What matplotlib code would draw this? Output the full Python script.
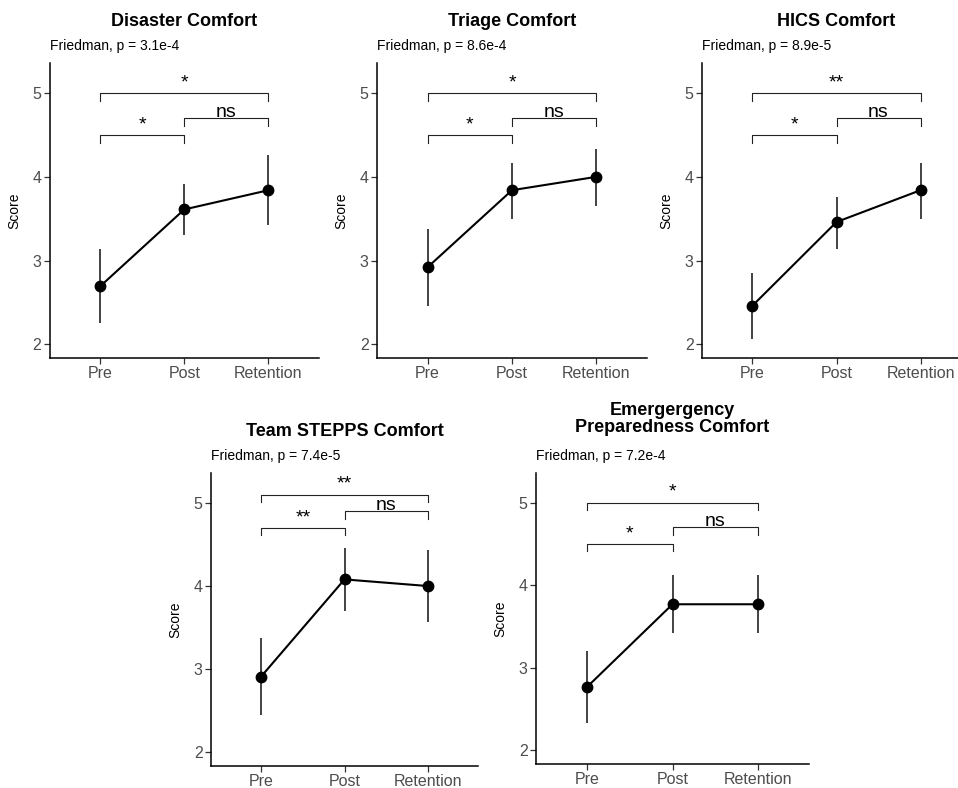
import matplotlib
matplotlib.use('Agg')
import matplotlib.pyplot as plt

plt.rcParams['font.family'] = ['Liberation Sans', 'DejaVu Sans']

## Data
categories = ['Pre', 'Post', 'Retention']

titles = ['Disaster Comfort', 'Triage Comfort', 'HICS Comfort',
          'Team STEPPS Comfort', 'Emergergency\nPreparedness Comfort']
friedman_p = ['3.1e-4', '8.6e-4', '8.9e-5', '7.4e-5', '7.2e-4']

disaster_mean = [2.69, 3.61, 3.84]
disaster_lo   = [2.25, 3.30, 3.43]
disaster_hi   = [3.14, 3.92, 4.26]

triage_mean = [2.92, 3.84, 4.00]
triage_lo   = [2.46, 3.50, 3.65]
triage_hi   = [3.38, 4.17, 4.33]

hics_mean = [2.46, 3.46, 3.84]
hics_lo   = [2.06, 3.14, 3.50]
hics_hi   = [2.85, 3.76, 4.17]

team_mean = [2.91, 4.08, 4.00]
team_lo   = [2.45, 3.70, 3.57]
team_hi   = [3.38, 4.46, 4.43]

ep_mean = [2.77, 3.77, 3.77]
ep_lo   = [2.33, 3.42, 3.42]
ep_hi   = [3.20, 4.13, 4.13]

# pairwise comparisons: (group a, group b, bracket height, label)
disaster_pairs = [(0, 1, 4.5, '*'), (1, 2, 4.7, 'ns'), (0, 2, 5.0, '*')]
triage_pairs   = [(0, 1, 4.5, '*'), (1, 2, 4.7, 'ns'), (0, 2, 5.0, '*')]
hics_pairs     = [(0, 1, 4.5, '*'), (1, 2, 4.7, 'ns'), (0, 2, 5.0, '**')]
team_pairs     = [(0, 1, 4.7, '**'), (1, 2, 4.9, 'ns'), (0, 2, 5.1, '**')]
ep_pairs       = [(0, 1, 4.5, '*'), (1, 2, 4.7, 'ns'), (0, 2, 5.0, '*')]

panels = [
    (disaster_mean, disaster_lo, disaster_hi, disaster_pairs),
    (triage_mean, triage_lo, triage_hi, triage_pairs),
    (hics_mean, hics_lo, hics_hi, hics_pairs),
    (team_mean, team_lo, team_hi, team_pairs),
    (ep_mean, ep_lo, ep_hi, ep_pairs),
]

## Layout (pixels: left, right, top, bottom)
W, H = 958, 788
boxes = [
    (49.5, 319, 63, 358),
    (377, 647, 63, 358),
    (702, 971, 63, 358),
    (211, 478, 473, 766),
    (536, 809, 473, 764),
]

fig = plt.figure(figsize=(W / 100, H / 100), dpi=100)
fig.patch.set_facecolor('white')

x = list(range(len(categories)))

for i, (mean, lo, hi, pairs) in enumerate(panels):
    l, r, t, b = boxes[i]
    ax = fig.add_axes([l / W, 1 - b / H, (r - l) / W, (b - t) / H])

    # error bars and mean line
    ax.vlines(x, lo, hi, color='#222222', linewidth=1.2, zorder=2)
    ax.plot(x, mean, color='black', linewidth=1.5, marker='o',
            markersize=7.5, zorder=3)

    # comparison brackets
    tip = 0.09
    for a, c, y, lab in pairs:
        ax.plot([a, a, c, c], [y - tip, y, y, y - tip], color='#222222',
                linewidth=0.8, zorder=2)
        off = 0.015 if lab == 'ns' else 0.07
        ax.text((a + c) / 2, y + off, lab, ha='center', va='baseline',
                fontsize=14, color='black')

    ax.set_xlim(-0.6, 2.6)
    ax.set_ylim(1.835, 5.36)
    ax.set_xticks(x)
    ax.set_xticklabels(categories)
    ax.set_yticks([2, 3, 4, 5])
    ax.tick_params(axis='both', colors='#333333', labelcolor='#4D4D4D',
                   labelsize=11.5, length=4, width=0.9, pad=2)
    for s in ['top', 'right']:
        ax.spines[s].set_visible(False)
    for s in ['left', 'bottom']:
        ax.spines[s].set_linewidth(1.1)
        ax.spines[s].set_color('black')
    ax.set_ylabel('Score', fontsize=10, color='black', labelpad=8)

    # title and subtitle
    if '\n' in titles[i]:
        ax.annotate(titles[i], xy=(0.5, 1), xycoords='axes fraction',
                    xytext=(0, 54), textcoords='offset pixels',
                    ha='center', va='center', fontsize=13,
                    fontweight='bold', linespacing=1.0)
    else:
        ax.annotate(titles[i], xy=(0.5, 1), xycoords='axes fraction',
                    xytext=(0, 41), textcoords='offset pixels',
                    ha='center', va='center', fontsize=13, fontweight='bold')
    ax.annotate('Friedman, p = ' + friedman_p[i], xy=(0, 1),
                xycoords='axes fraction', xytext=(0, 17),
                textcoords='offset pixels', ha='left', va='center',
                fontsize=10)

plt.savefig('out.png', dpi=100)
